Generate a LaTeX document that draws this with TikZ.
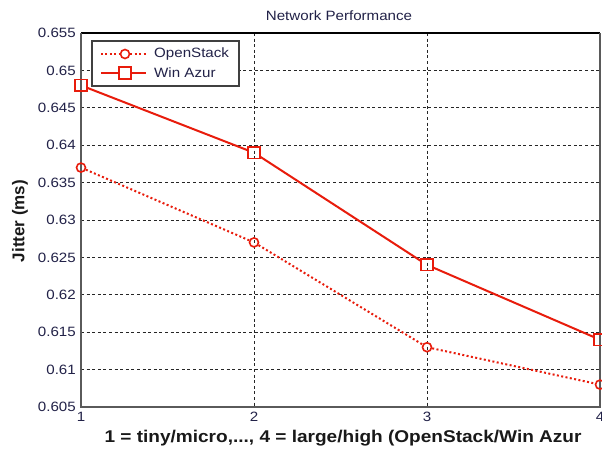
\documentclass[tikz,border=0pt]{standalone}
\usepackage{fontspec}
\setmainfont{Liberation Sans}
\begin{document}
\begin{tikzpicture}[x=1pt,y=-1pt,
  every node/.style={inner sep=0pt},
  wide/.style={xscale=1.12,transform shape},
  ticklab/.style={text=labcol,font=\fontsize{13.5}{14}\selectfont,wide},
  gridline/.style={draw=black!85,line width=0.9pt,dash pattern=on 3pt off 2.6pt},
  osline/.style={draw=plotred,line width=2pt,dash pattern=on 2pt off 2.4pt},
  azline/.style={draw=plotred,line width=2pt},
  osmark/.style={circle,draw=plotred,line width=1.6pt,minimum size=9pt,fill=none},
  azmark/.style={rectangle,draw=plotred,line width=1.6pt,minimum size=11.5pt,fill=none}]
\definecolor{plotred}{RGB}{232,28,12}
\definecolor{labcol}{RGB}{34,34,72}
\definecolor{axgray}{RGB}{90,90,90}
\useasboundingbox (0,0) rectangle (602,450);
\fill[white] (0,0) rectangle (602,450);
% grid
\foreach \y in {70.4,107.8,145.2,182.6,220,257.4,294.8,332.2,369.6}
  \draw[gridline] (81,\y) -- (600,\y);
\foreach \x in {254,427}
  \draw[gridline] (\x,33) -- (\x,407);
% axes box
\draw[black,line width=1.4pt] (81,33) -- (600,33);
\draw[axgray,line width=2pt] (81,33) -- (81,407) -- (600,407) -- (600,33);
% y tick labels
\foreach \v/\y in {0.655/33,0.65/70.4,0.645/107.8,0.64/145.2,0.635/182.6,0.63/220,0.625/257.4,0.62/294.8,0.615/332.2,0.61/369.6,0.605/407}
  \node[ticklab,anchor=east] at (76,\y) {\v};
\foreach \v/\x in {1/81,2/254,3/427,4/600}
  \node[ticklab,anchor=north] at (\x,412) {\v};
% title and axis labels
\node[text=labcol,font=\fontsize{13.5}{14}\selectfont,wide] (title) at (339,16) {Network Performance};
\node[font=\bfseries\fontsize{17}{18}\selectfont,text=black!90,wide] (xlab) at (343,438) {1 = tiny/micro,..., 4 = large/high (OpenStack/Win Azur};
\node[font=\bfseries\fontsize{17}{18}\selectfont,text=black!90,rotate=90] (ylab) at (20,221) {Jitter (ms)};
% data
\node[osmark] (o1) at (81,167.6) {};
\node[osmark] (o2) at (254,242.4) {};
\node[osmark] (o3) at (427,347.2) {};
\node[osmark] (o4) at (600,384.6) {};
\draw[osline] (o1) -- (o2) -- (o3) -- (o4);
\node[azmark] (a1) at (81,85.4) {};
\node[azmark] (a2) at (254,152.7) {};
\node[azmark] (a3) at (427,264.9) {};
\node[azmark] (a4) at (600,339.7) {};
\draw[azline] (a1) -- (a2) -- (a3) -- (a4);
% legend
\draw[fill=white,draw=black!75,line width=1.4pt] (92,41) rectangle (239,86);
\coordinate (l1a) at (101,54);
\coordinate (l1b) at (146,54);
\coordinate (l2a) at (101,73);
\coordinate (l2b) at (146,73);
\node[osmark] (lo) at (125,54) {};
\node[azmark] (la) at (125,73) {};
\draw[osline] (l1a) -- (lo) -- (l1b);
\draw[azline] (l2a) -- (la) -- (l2b);
\node[ticklab,anchor=west] (t1) at (154,54) {OpenStack};
\node[ticklab,anchor=west] (t2) at (154,73) {Win Azur};
\end{tikzpicture}
\end{document}
